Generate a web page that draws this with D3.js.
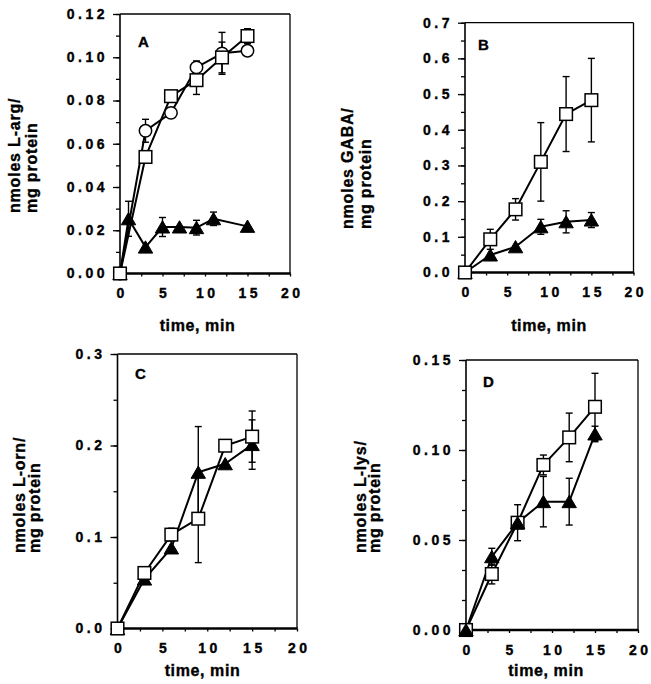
<!DOCTYPE html>
<html>
<head>
<meta charset="utf-8">
<script src="https://cdn.jsdelivr.net/npm/d3@7"></script>
<style>
body { margin: 0; background: #fff; }
svg { font-family: "Liberation Sans", Arial, Helvetica, sans-serif; font-weight: bold; }
svg text { stroke: #000; stroke-width: 0.35px; }
</style>
</head>
<body>
<div id="chart"></div>
<script>
// sampling times (min)
var times = [0, 3, 6, 9, 12, 15];
var timesArgTri = [0, 1, 3, 5, 7, 9, 11, 15];

// A : L-arg
var argCircle = [0, 0.066, 0.0743, 0.0953, 0.1018, 0.103];
var argCircleErr = [0, 0.0053, 0, 0.003, 0.0097, 0];
var argSquare = [0, 0.0539, 0.082, 0.0894, 0.0999, 0.1098];
var argSquareErr = [0, 0, 0.001, 0.0066, 0.0071, 0.0034];
var argTri = [0, 0.0253, 0.0122, 0.0215, 0.0215, 0.0212, 0.0253, 0.0218];
var argTriErr = [0, 0.0081, 0, 0.0044, 0, 0.0034, 0.0031, 0];

// B : GABA
var gabaSquare = [0, 0.093, 0.177, 0.31, 0.444, 0.483];
var gabaSquareErr = [0, 0.028, 0.03, 0.11, 0.105, 0.117];
var gabaTri = [0, 0.049, 0.072, 0.128, 0.142, 0.147];
var gabaTriErr = [0, 0, 0, 0.021, 0.031, 0.021];

// C : L-orn
var ornSquare = [0, 0.0607, 0.1026, 0.12, 0.1998, 0.2097];
var ornSquareErr = [0, 0, 0.007, 0.048, 0, 0.028];
var ornTri = [0, 0.054, 0.088, 0.1707, 0.18, 0.201];
var ornTriErr = [0, 0, 0, 0.05, 0, 0.027];

// D : L-lys
var lysSquare = [0, 0.0311, 0.0596, 0.0917, 0.107, 0.124];
var lysSquareErr = [0, 0.0055, 0.01, 0.0055, 0.0135, 0.0186];
var lysTri = [0, 0.0407, 0.0596, 0.0713, 0.0713, 0.1089];
var lysTriErr = [0, 0.0047, 0, 0.014, 0.013, 0.0043];

var xTicks = [0, 2.5, 5, 7.5, 10, 12.5, 15, 17.5, 20];

var panels = [
    { letter: "A", left: 120, right: 290, top: 14, bottom: 273.5,
      ymax: 0.12, step: 0.02, minorDiv: 2, fmt: ".2f",
      title: ["nmoles L-arg/", "mg protein"], titleX: [20, 37], titleY: 213,
      timeX: 197.5, timeY: 331, letterX: 138, letterY: 47,
      series: [
          { shape: "tri", t: timesArgTri, v: argTri, e: argTriErr },
          { shape: "circle", t: times, v: argCircle, e: argCircleErr },
          { shape: "square", t: times, v: argSquare, e: argSquareErr }
      ] },
    { letter: "B", left: 465, right: 633.5, top: 22.7, bottom: 272.5,
      ymax: 0.7, step: 0.1, minorDiv: 2, fmt: ".1f",
      title: ["nmoles GABA/", "mg protein"], titleX: [353, 371], titleY: 229,
      timeX: 549, timeY: 331, letterX: 478, letterY: 50,
      series: [
          { shape: "tri", t: times, v: gabaTri, e: gabaTriErr },
          { shape: "square", t: times, v: gabaSquare, e: gabaSquareErr }
      ] },
    { letter: "C", left: 117.5, right: 297, top: 354, bottom: 628.5,
      ymax: 0.3, step: 0.1, minorDiv: 2, fmt: ".1f",
      title: ["nmoles L-orn/", "mg protein"], titleX: [25, 40], titleY: 553,
      timeX: 202.5, timeY: 676, letterX: 135, letterY: 379,
      series: [
          { shape: "tri", t: times, v: ornTri, e: ornTriErr },
          { shape: "square", t: times, v: ornSquare, e: ornSquareErr }
      ] },
    { letter: "D", left: 466, right: 638, top: 360, bottom: 630,
      ymax: 0.15, step: 0.05, minorDiv: 3, fmt: ".2f",
      title: ["nmoles L-lys/", "mg protein"], titleX: [366, 380], titleY: 553,
      timeX: 546, timeY: 676, letterX: 483, letterY: 387,
      series: [
          { shape: "square", t: times, v: lysSquare, e: lysSquareErr },
          { shape: "tri", t: times, v: lysTri, e: lysTriErr }
      ] }
];

var svg = d3.select("#chart")
    .append("svg")
    .attr("width", 651)
    .attr("height", 684);

var ls = 3.5; // tick label letter spacing

panels.forEach(function(p) {

    var x = d3.scaleLinear().domain([0, 20]).range([p.left, p.right]);
    var y = d3.scaleLinear().domain([0, p.ymax]).range([p.bottom, p.top]);

    var g = svg.append("g").attr("class", "panel");

    var nMajor = Math.round(p.ymax / p.step);
    var major = d3.range(nMajor + 1).map(function(i) { return i * p.step; });
    var minor = d3.range(nMajor * p.minorDiv + 1).map(function(i) { return i * p.step / p.minorDiv; });

    // minor y ticks
    var yMinor = g.append("g")
        .attr("transform", "translate(" + p.left + ",0)")
        .call(d3.axisLeft(y).tickValues(minor).tickSize(4).tickFormat(""));
    yMinor.select(".domain").remove();

    // major y ticks + labels
    var yAxis = g.append("g")
        .attr("transform", "translate(" + p.left + ",0)")
        .call(d3.axisLeft(y).tickValues(major).tickSize(7).tickPadding(5).tickFormat(d3.format(p.fmt)));
    yAxis.select(".domain").remove();
    yAxis.selectAll("text")
        .attr("font-size", 14)
        .attr("font-family", null)
        .style("letter-spacing", ls + "px")
        .attr("fill", "#000");

    // x ticks + labels
    var xAxis = g.append("g")
        .attr("transform", "translate(0," + p.bottom + ")")
        .call(d3.axisBottom(x).tickValues(xTicks).tickSize(3).tickPadding(12)
            .tickFormat(function(d) { return d % 5 == 0 ? d : ""; }));
    xAxis.select(".domain").remove();
    xAxis.selectAll("text")
        .attr("font-size", 14)
        .attr("font-family", null)
        .attr("dx", ls / 2)
        .style("letter-spacing", ls + "px")
        .attr("fill", "#000");

    g.selectAll(".tick line").attr("stroke", "#000").attr("stroke-width", 1.3);

    // frame
    g.append("line").attr("x1", p.left).attr("x2", p.right).attr("y1", p.top).attr("y2", p.top)
        .attr("stroke", "#000").attr("stroke-width", 1.3);
    g.append("line").attr("x1", p.right).attr("x2", p.right).attr("y1", p.top).attr("y2", p.bottom)
        .attr("stroke", "#000").attr("stroke-width", 1.3);
    g.append("line").attr("x1", p.left).attr("x2", p.left).attr("y1", p.top).attr("y2", p.bottom)
        .attr("stroke", "#000").attr("stroke-width", 1.6);
    g.append("line").attr("x1", p.left - 1).attr("x2", p.right + 0.6).attr("y1", p.bottom).attr("y2", p.bottom)
        .attr("stroke", "#000").attr("stroke-width", 2.4);

    // panel letter
    g.append("text")
        .attr("x", p.letterX)
        .attr("y", p.letterY)
        .attr("font-size", 15)
        .text(p.letter);

    // y title, two lines, rotated
    p.title.forEach(function(t, i) {
        g.append("text")
            .attr("transform", "translate(" + p.titleX[i] + "," + p.titleY + ") rotate(-90)")
            .attr("font-size", 16)
            .style("letter-spacing", "0.8px")
            .style("text-anchor", "start")
            .text(t);
    });

    // x title
    g.append("text")
        .attr("x", p.timeX)
        .attr("y", p.timeY)
        .attr("font-size", 16)
        .style("letter-spacing", "0.6px")
        .style("text-anchor", "middle")
        .text("time, min");

    var line = d3.line()
        .x(function(d) { return x(d.t); })
        .y(function(d) { return y(d.v); });

    var rows = p.series.map(function(s) {
        return s.t.map(function(t, i) { return { t: t, v: s.v[i], e: s.e[i], shape: s.shape }; });
    });

    // connecting lines
    rows.forEach(function(r) {
        g.append("path")
            .datum(r)
            .attr("d", line)
            .attr("fill", "none")
            .attr("stroke", "#000")
            .attr("stroke-width", 2)
            .attr("stroke-linejoin", "round");
    });

    // error bars
    rows.forEach(function(r) {
        var eb = g.selectAll(null)
            .data(r.filter(function(d) { return d.e > 0; }))
            .enter().append("g")
            .attr("stroke", "#000")
            .attr("stroke-width", 1.4);
        eb.append("line")
            .attr("x1", function(d) { return x(d.t); })
            .attr("x2", function(d) { return x(d.t); })
            .attr("y1", function(d) { return y(d.v - d.e); })
            .attr("y2", function(d) { return y(d.v + d.e); });
        eb.append("line")
            .attr("x1", function(d) { return x(d.t) - 3.5; })
            .attr("x2", function(d) { return x(d.t) + 3.5; })
            .attr("y1", function(d) { return y(d.v + d.e); })
            .attr("y2", function(d) { return y(d.v + d.e); });
        eb.append("line")
            .attr("x1", function(d) { return x(d.t) - 3.5; })
            .attr("x2", function(d) { return x(d.t) + 3.5; })
            .attr("y1", function(d) { return y(d.v - d.e); })
            .attr("y2", function(d) { return y(d.v - d.e); });
    });

    // markers
    rows.forEach(function(r) {
        var shape = r[0].shape;
        if (shape == "square") {
            g.selectAll(null).data(r).enter().append("rect")
                .attr("x", function(d) { return x(d.t) - 6.3; })
                .attr("y", function(d) { return y(d.v) - 6.3; })
                .attr("width", 12.6)
                .attr("height", 12.6)
                .attr("fill", "#fff")
                .attr("stroke", "#000")
                .attr("stroke-width", 1.5);
        } else if (shape == "circle") {
            g.selectAll(null).data(r).enter().append("circle")
                .attr("cx", function(d) { return x(d.t); })
                .attr("cy", function(d) { return y(d.v); })
                .attr("r", 6.2)
                .attr("fill", "#fff")
                .attr("stroke", "#000")
                .attr("stroke-width", 1.5);
        } else {
            g.selectAll(null).data(r).enter().append("path")
                .attr("d", function(d) {
                    var cx = x(d.t), cy = y(d.v);
                    return "M" + cx + "," + (cy - 6.3) + "L" + (cx + 7.2) + "," + (cy + 6) + "L" + (cx - 7.2) + "," + (cy + 6) + "Z";
                })
                .attr("fill", "#000")
                .attr("stroke", "#000")
                .attr("stroke-width", 1);
        }
    });
});
</script>
</body>
</html>
